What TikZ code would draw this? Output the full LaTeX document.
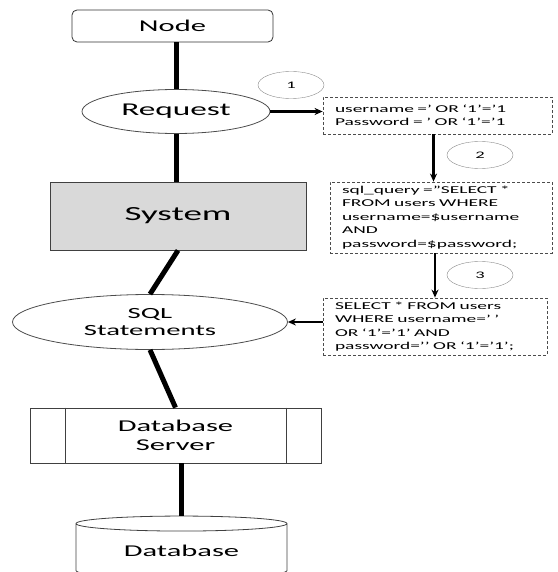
\documentclass[tikz,border=0pt]{standalone}
\usepackage{fontspec}
\setmainfont{Carlito}[FakeStretch=1.85]
\usetikzlibrary{shapes.geometric,arrows.meta}
\definecolor{sysgrey}{HTML}{D9D9D9}

\begin{document}
\begin{tikzpicture}[x=1pt, y=-1pt, line width=0.8pt,
	box/.style = {draw=black!80, minimum width=201pt, minimum height=32pt, rounded corners=5pt, font=\fontsize{16.5}{19}\selectfont},
	oval/.style = {draw=black!70, ellipse, inner sep=0pt},
	code/.style = {draw=black!70, dash pattern=on 3pt off 2pt, align=left, inner xsep=12pt, inner ysep=0pt, font=\fontsize{10.5}{13.5}\selectfont},
	num/.style = {draw=black!45, thin, ellipse, minimum width=66pt, minimum height=27pt, font=\fontsize{10}{12}\selectfont},
	link/.style = {line width=5pt},
	flow/.style = {-{Stealth[length=8pt,width=7pt]}, line width=2.6pt}]

	\useasboundingbox (0,0) rectangle (557,572);

	% left column
	\node[box] (node) at (172.5,26) {Node};
	\node[oval, minimum width=188pt, minimum height=44pt, font=\fontsize{18}{21}\selectfont] (request) at (176,111.5) {Request};
	\node[draw=black!75, fill=sysgrey, minimum width=256pt, minimum height=68pt, font=\fontsize{20}{23}\selectfont] (system) at (178,216) {System};
	\node[oval, minimum width=275pt, minimum height=55pt, align=center, font=\fontsize{15.5}{16.7}\selectfont] (sql) at (150,322) {SQL\\Statements};
	\node[draw=black!75, minimum width=291pt, minimum height=55pt, align=center, font=\fontsize{16.5}{19}\selectfont] (dbs) at (175.5,435.5) {Database\\Server};
	\draw[black!75] ([xshift=36pt]dbs.north west) -- ([xshift=36pt]dbs.south west);
	\draw[black!75] ([xshift=-35pt]dbs.north east) -- ([xshift=-35pt]dbs.south east);
	\node[draw=black!75, cylinder, shape border rotate=90, aspect=0.13, minimum width=211pt, minimum height=62pt, inner sep=0pt, font=\fontsize{16.5}{19}\selectfont] (db) at (181.5,551) {Database};

	% right column
	\node[num] (n1) at (291,85) {1};
	\node[code, text width=205pt, minimum height=37pt] (q1) at (437.5,115.5) {username =’ OR ‘1’=’1\\Password = ’ OR ‘1’=’1};
	\node[num] (n2) at (480,155) {2};
	\node[code, text width=198pt, minimum height=71pt] (q2) at (441,217.5) {sql\_query =”SELECT *\\FROM users WHERE\\username=\$username\\AND\\password=\$password;};
	\node[num] (n3) at (480,275) {3};
	\node[code, text width=200pt, minimum height=57pt] (q3) at (435,326.5) {SELECT * FROM users\\WHERE username=’ ’\\OR ‘1’=’1’ AND\\password=’’ OR ‘1’=’1’;};

	\draw[link] (request.north) -- (request.north |- node.south);
	\draw[link] (request.south) -- (request.south |- system.north);
	\draw[link] (system.south) -- (sql.north);
	\draw[link] (sql.south) -- (dbs.north);
	\draw[link] (db.north |- dbs.south) -- (db.north);

	\draw[flow] (request.east) -- (request.east -| q1.west);
	\draw[flow] ([xshift=-4pt]q1.south) -- ([xshift=-4pt]q1.south |- q2.north);
	\draw[flow] (q3.north |- q2.south) -- (q3.north);
	\draw[flow] (q3.west |- sql.east) -- (sql.east);
\end{tikzpicture}
\end{document}
